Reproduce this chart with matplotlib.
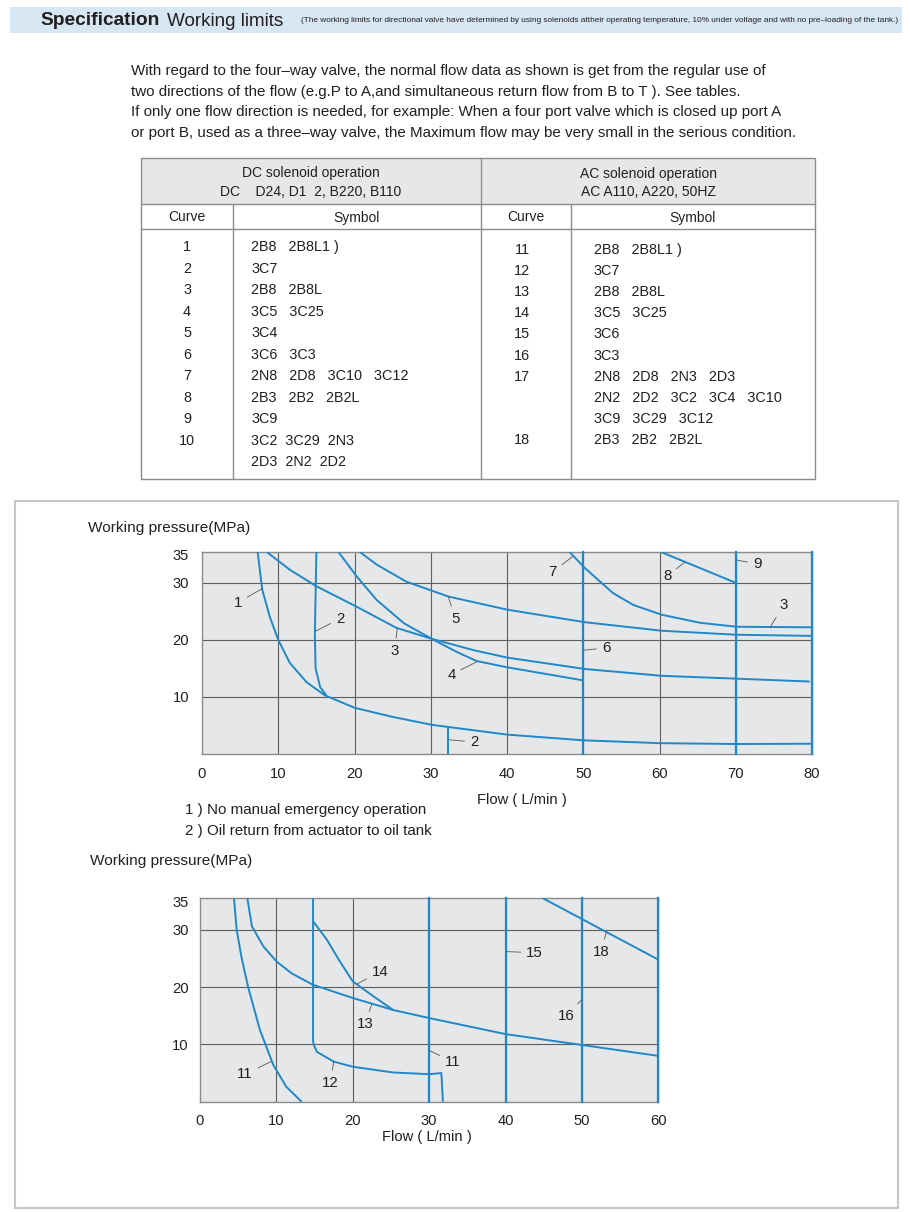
import matplotlib
matplotlib.use('Agg')
import matplotlib.pyplot as plt
from matplotlib import font_manager
from matplotlib.patches import Rectangle

# ---- texts ----
title_bold = 'Specification'
title_main = 'Working limits'
title_note = ('(The working limits for directional valve have determined by using solenoids '
              'attheir operating temperature, 10% under voltage and with no pre\u2013loading of the tank.)')
intro_lines = [
    'With regard to the four\u2013way valve, the normal flow data as shown is get from the regular use of',
    'two directions of the flow (e.g.P to A,and simultaneous return flow from B to T ). See tables.',
    'If only one flow direction is needed, for example: When a four port valve which is closed up port A',
    'or port B, used as a three\u2013way valve, the Maximum flow may be very small in the serious condition.',
]
dc_head = ['DC solenoid operation', 'DC    D24, D1  2, B220, B110']
ac_head = ['AC solenoid operation', 'AC A110, A220, 50HZ']
col_heads = ['Curve', 'Symbol']
dc_curves = ['1', '2', '3', '4', '5', '6', '7', '8', '9', '10', '']
dc_symbols = ['2B8   2B8L1\u00a0)', '3C7', '2B8   2B8L', '3C5   3C25', '3C4', '3C6   3C3',
              '2N8   2D8   3C10   3C12', '2B3   2B2   2B2L', '3C9', '3C2  3C29  2N3',
              '2D3  2N2  2D2']
ac_curves = ['11', '12', '13', '14', '15', '16', '17', '', '', '18']
ac_symbols = ['2B8   2B8L1\u00a0)', '3C7', '2B8   2B8L', '3C5   3C25', '3C6', '3C3',
              '2N8   2D8   2N3   2D3', '2N2   2D2   3C2   3C4   3C10',
              '3C9   3C29   3C12', '2B3   2B2   2B2L']
ylabel = 'Working pressure(MPa)'
xlabel = 'Flow ( L/min )'
notes = ['1 ) No manual emergency operation', '2 ) Oil return from actuator to oil tank']

# ---- chart 1 (DC) : flow L/min, pressure MPa ----
dc_xticks = [0, 10, 20, 30, 40, 50, 60, 70, 80]
dc_yticks = [10, 20, 30, 35]
c1 = ([7.3, 7.9, 8.9, 10, 11.5, 13.7, 16.1, 20, 25, 30.2, 40, 50, 60, 70, 80],
      [35.4, 28.8, 24, 20, 16, 12.6, 10.3, 8.1, 6.5, 5.1, 3.4, 2.4, 1.9, 1.75, 1.8])
c2a = ([15.0, 14.9, 14.8, 14.9, 15.5, 16.3], [35.4, 28, 21, 15, 11.7, 10.3])
c2b = ([32.3, 32.3], [0, 4.7])
c3 = ([8.5, 11.5, 15, 20.3, 25.5, 30.1, 35.6, 40, 50.2, 60.3, 70.1, 79.7],
      [35.4, 32.3, 29.4, 25.8, 22.1, 20.2, 18.2, 16.9, 14.9, 13.7, 13.2, 12.7])
c4 = ([17.9, 20.3, 22.9, 26.5, 30.1, 33.4, 36, 40, 50],
      [35.4, 31.1, 27, 22.9, 20.2, 17.9, 16.3, 15.2, 12.9])
c5 = ([20.7, 22.9, 26.8, 32.3, 40, 50.2, 60.3, 70.1, 80],
      [35.4, 33.2, 30.2, 27.6, 25.3, 23.1, 21.6, 20.9, 20.7])
c7 = ([48.2, 50.2, 53.9, 56.6, 60.3, 65.3, 70.1, 80],
      [35.4, 32.6, 28.2, 26.1, 24.4, 23.0, 22.3, 22.2])
c8 = ([60.2, 70.0], [35.4, 30.0])
dc_vertical = [50, 70, 80]          # curves 6, 9, 10

# ---- chart 2 (AC) ----
ac_xticks = [0, 10, 20, 30, 40, 50, 60]
ac_yticks = [10, 20, 30, 35]
c11 = ([4.45, 4.8, 5.45, 6.3, 7.85, 9.6, 11.3, 13.3],
       [35.5, 30, 25.1, 20, 12.5, 6.4, 2.6, 0])
c12 = ([14.8, 14.8, 14.8, 14.9, 15.3, 17.5, 20, 25.3, 30, 31.6, 31.8],
       [35.5, 20, 10.6, 9.9, 8.7, 7.0, 6.1, 5.1, 4.8, 5.0, 0])
c13 = ([6.2, 6.8, 8.3, 10, 12, 14.8, 20, 25.3, 30, 40, 50, 60],
       [35.5, 30.6, 27.1, 24.5, 22.4, 20.4, 18.1, 16.0, 14.6, 11.8, 9.9, 8.0])
c14 = ([14.8, 16.6, 18.3, 20, 22.7, 25.3], [31.5, 28.3, 24.5, 21, 18.4, 16.0])
c18 = ([44.9, 60], [35.5, 24.8])
ac_vertical = [30, 40, 50, 60]      # curves 11, 15, 16, 17

# label text, text position, point on curve
dc_labels = [('1', (4.7, 26.5), (7.9, 29.0)), ('2', (18.1, 23.7), (14.85, 21.5)),
             ('3', (25.3, 18.1), (25.6, 22.0)), ('5', (33.2, 23.7), (32.3, 27.6)),
             ('4', (32.7, 13.9), (36.1, 16.2)), ('2', (35.7, 2.1), (32.35, 2.5)),
             ('7', (46.0, 31.9), (48.6, 34.6)), ('8', (61.0, 31.2), (63.3, 33.6)),
             ('9', (72.8, 33.3), (70.1, 34.0)), ('3', (76.3, 26.1), (74.5, 22.2)),
             ('6', (53.0, 18.6), (50.1, 18.2))]
ac_labels = [('11', (5.9, 4.8), (9.3, 7.0)), ('12', (17.1, 3.3), (17.5, 7.0)),
             ('13', (21.6, 13.6), (22.5, 17.1)), ('14', (23.6, 22.7), (20.5, 20.5)),
             ('11', (33.1, 7.0), (30.05, 8.9)), ('15', (43.8, 26.0), (40.1, 26.2)),
             ('16', (48.0, 15.0), (49.95, 17.8)), ('17', (62.6, 33.6), (60.1, 32.1)),
             ('18', (52.5, 26.2), (53.2, 29.6))]

W, H = 910, 1212
BLUE = '#2088c6'
INK = '#231f20'
PLOTBG = '#e6e7e9'
GRID = '#5e5e5e'

plt.rcParams['font.family'] = ['Liberation Sans', 'DejaVu Sans']
names = {f.name for f in font_manager.fontManager.ttflist}
narrow = 'Liberation Sans Narrow' if 'Liberation Sans Narrow' in names else 'Liberation Sans'

fig = plt.figure(figsize=(W / 100, H / 100), dpi=100)
fig.patch.set_facecolor('white')

# background axes in pixel units for header, text and table
bg = fig.add_axes([0, 0, 1, 1])
bg.set_xlim(0, W)
bg.set_ylim(H, 0)
bg.axis('off')

bg.add_patch(Rectangle((10, 7), 892, 26, facecolor='#d7e6f3', edgecolor='none'))
bg.text(40, 20.5, title_bold, fontsize=13.8, fontweight='bold', color=INK, va='center')
bg.text(167, 21, title_main, fontsize=13.6, color=INK, va='center')
note = bg.text(301, 20.5, title_note, fontsize=6.3, color=INK, va='center',
               family=[narrow, 'DejaVu Sans'])
# shrink the note so it fits between x=301 and x=896 like the reference
renderer = fig.canvas.get_renderer()
wpx = note.get_window_extent(renderer).width
note.set_fontsize(6.3 * 594 / wpx)

for i, line in enumerate(intro_lines):
    bg.text(131, 71 + i * 20.7, line, fontsize=10.9, color=INK, va='center')

# table
tl, tr, tt, tb, mid = 141, 815, 158, 479, 481
row1, row2, cl, cr = 204, 229, 233, 571
lc = '#8c8c8c'
bg.add_patch(Rectangle((tl, tt), tr - tl, row1 - tt, facecolor='#e7e7e7', edgecolor='none'))
bg.add_patch(Rectangle((tl, tt), tr - tl, tb - tt, fill=False, edgecolor=lc, lw=1))
bg.plot([tl, tr], [row1, row1], color=lc, lw=1)
bg.plot([tl, tr], [row2, row2], color=lc, lw=1)
bg.plot([mid, mid], [tt, tb], color=lc, lw=1)
bg.plot([cl, cl], [row1, tb], color=lc, lw=1)
bg.plot([cr, cr], [row1, tb], color=lc, lw=1)

tfs = 10
sfs = 10.4
for j, t in enumerate(dc_head):
    bg.text((tl + mid) / 2, 173.5 + j * 18.5, t, fontsize=tfs, color=INK, ha='center', va='center')
for j, t in enumerate(ac_head):
    bg.text((mid + tr) / 2, 174 + j * 18.5, t, fontsize=tfs, color=INK, ha='center', va='center')
bg.text((tl + cl) / 2, 217, col_heads[0], fontsize=tfs, color=INK, ha='center', va='center')
bg.text((cl + mid) / 2, 218, col_heads[1], fontsize=tfs, color=INK, ha='center', va='center')
bg.text((mid + cr) / 2, 217, col_heads[0], fontsize=tfs, color=INK, ha='center', va='center')
bg.text((cr + tr) / 2, 218, col_heads[1], fontsize=tfs, color=INK, ha='center', va='center')

for i, (c, s) in enumerate(zip(dc_curves, dc_symbols)):
    y = 247 + i * 21.55
    bg.text(187, y, c, fontsize=sfs, color=INK, ha='center', va='center')
    bg.text(251, y, s, fontsize=sfs, color=INK, ha='left', va='center')
for i, (c, s) in enumerate(zip(ac_curves, ac_symbols)):
    y = 250 + i * 21.1
    bg.text(522, y, c, fontsize=sfs, color=INK, ha='center', va='center')
    bg.text(594, y, s, fontsize=sfs, color=INK, ha='left', va='center')

# box around charts
bg.add_patch(Rectangle((14.5, 500.5), 883, 707, fill=False, edgecolor='#c6c6c6', lw=1.5))

bg.text(88, 528, ylabel, fontsize=11.1, color=INK, va='center')
bg.text(522, 800, xlabel, fontsize=10.6, color=INK, ha='center', va='center')
for i, n in enumerate(notes):
    bg.text(185, 810 + i * 21, n, fontsize=10.9, color=INK, va='center')
bg.text(90, 861, ylabel, fontsize=11.1, color=INK, va='center')
bg.text(427, 1137, xlabel, fontsize=10.6, color=INK, ha='center', va='center')


def setup(ax, xmax, ymax, xticks, yticks, xgrid, xpad, ypad):
    ax.set_facecolor(PLOTBG)
    ax.set_xlim(0, xmax)
    ax.set_ylim(0, ymax)
    ax.set_xticks(xticks)
    ax.set_yticks(yticks)
    ax.tick_params(length=0, labelsize=10.6, labelcolor=INK)
    ax.tick_params(axis='x', pad=xpad)
    ax.tick_params(axis='y', pad=ypad)
    for sp in ax.spines.values():
        sp.set_color('#8a8a8a')
        sp.set_linewidth(1)
    for g in xgrid:
        ax.axvline(g, color=GRID, lw=0.8, zorder=1)
    for g in [10, 20, 30]:
        ax.axhline(g, color=GRID, lw=0.8, zorder=1)


def label(ax, items):
    for txt, tpos, xy in items:
        ax.annotate(txt, xy=xy, xytext=tpos, ha='center', va='center', fontsize=10.8, color=INK,
                    arrowprops=dict(arrowstyle='-', color='#555555', lw=0.6, shrinkA=2, shrinkB=0),
                    zorder=5)


ax1 = fig.add_axes([202 / W, 1 - 754 / H, 610 / W, 202 / H])
setup(ax1, 80, 35.4, dc_xticks, dc_yticks, [10, 20, 30, 40, 50, 60, 70], 9.5, 9.2)
for cx, cy in [c1, c2a, c2b, c3, c4, c5, c7, c8]:
    ax1.plot(cx, cy, color=BLUE, lw=1.4, zorder=3, solid_capstyle='butt')
for v in dc_vertical:
    ax1.axvline(v, color=BLUE, lw=1.6, zorder=3, clip_on=False)
label(ax1, dc_labels)

ax2 = fig.add_axes([200 / W, 1 - 1101.7 / H, 458.3 / W, 203.4 / H])
setup(ax2, 60, 35.5, ac_xticks, ac_yticks, [10, 20, 30, 40, 50], 8.5, 8.0)
for cx, cy in [c11, c12, c13, c14, c18]:
    ax2.plot(cx, cy, color=BLUE, lw=1.4, zorder=3, solid_capstyle='butt')
for v in ac_vertical:
    ax2.axvline(v, color=BLUE, lw=1.6, zorder=3, clip_on=False)
label(ax2, ac_labels)

fig.savefig('out.png', dpi=100)
